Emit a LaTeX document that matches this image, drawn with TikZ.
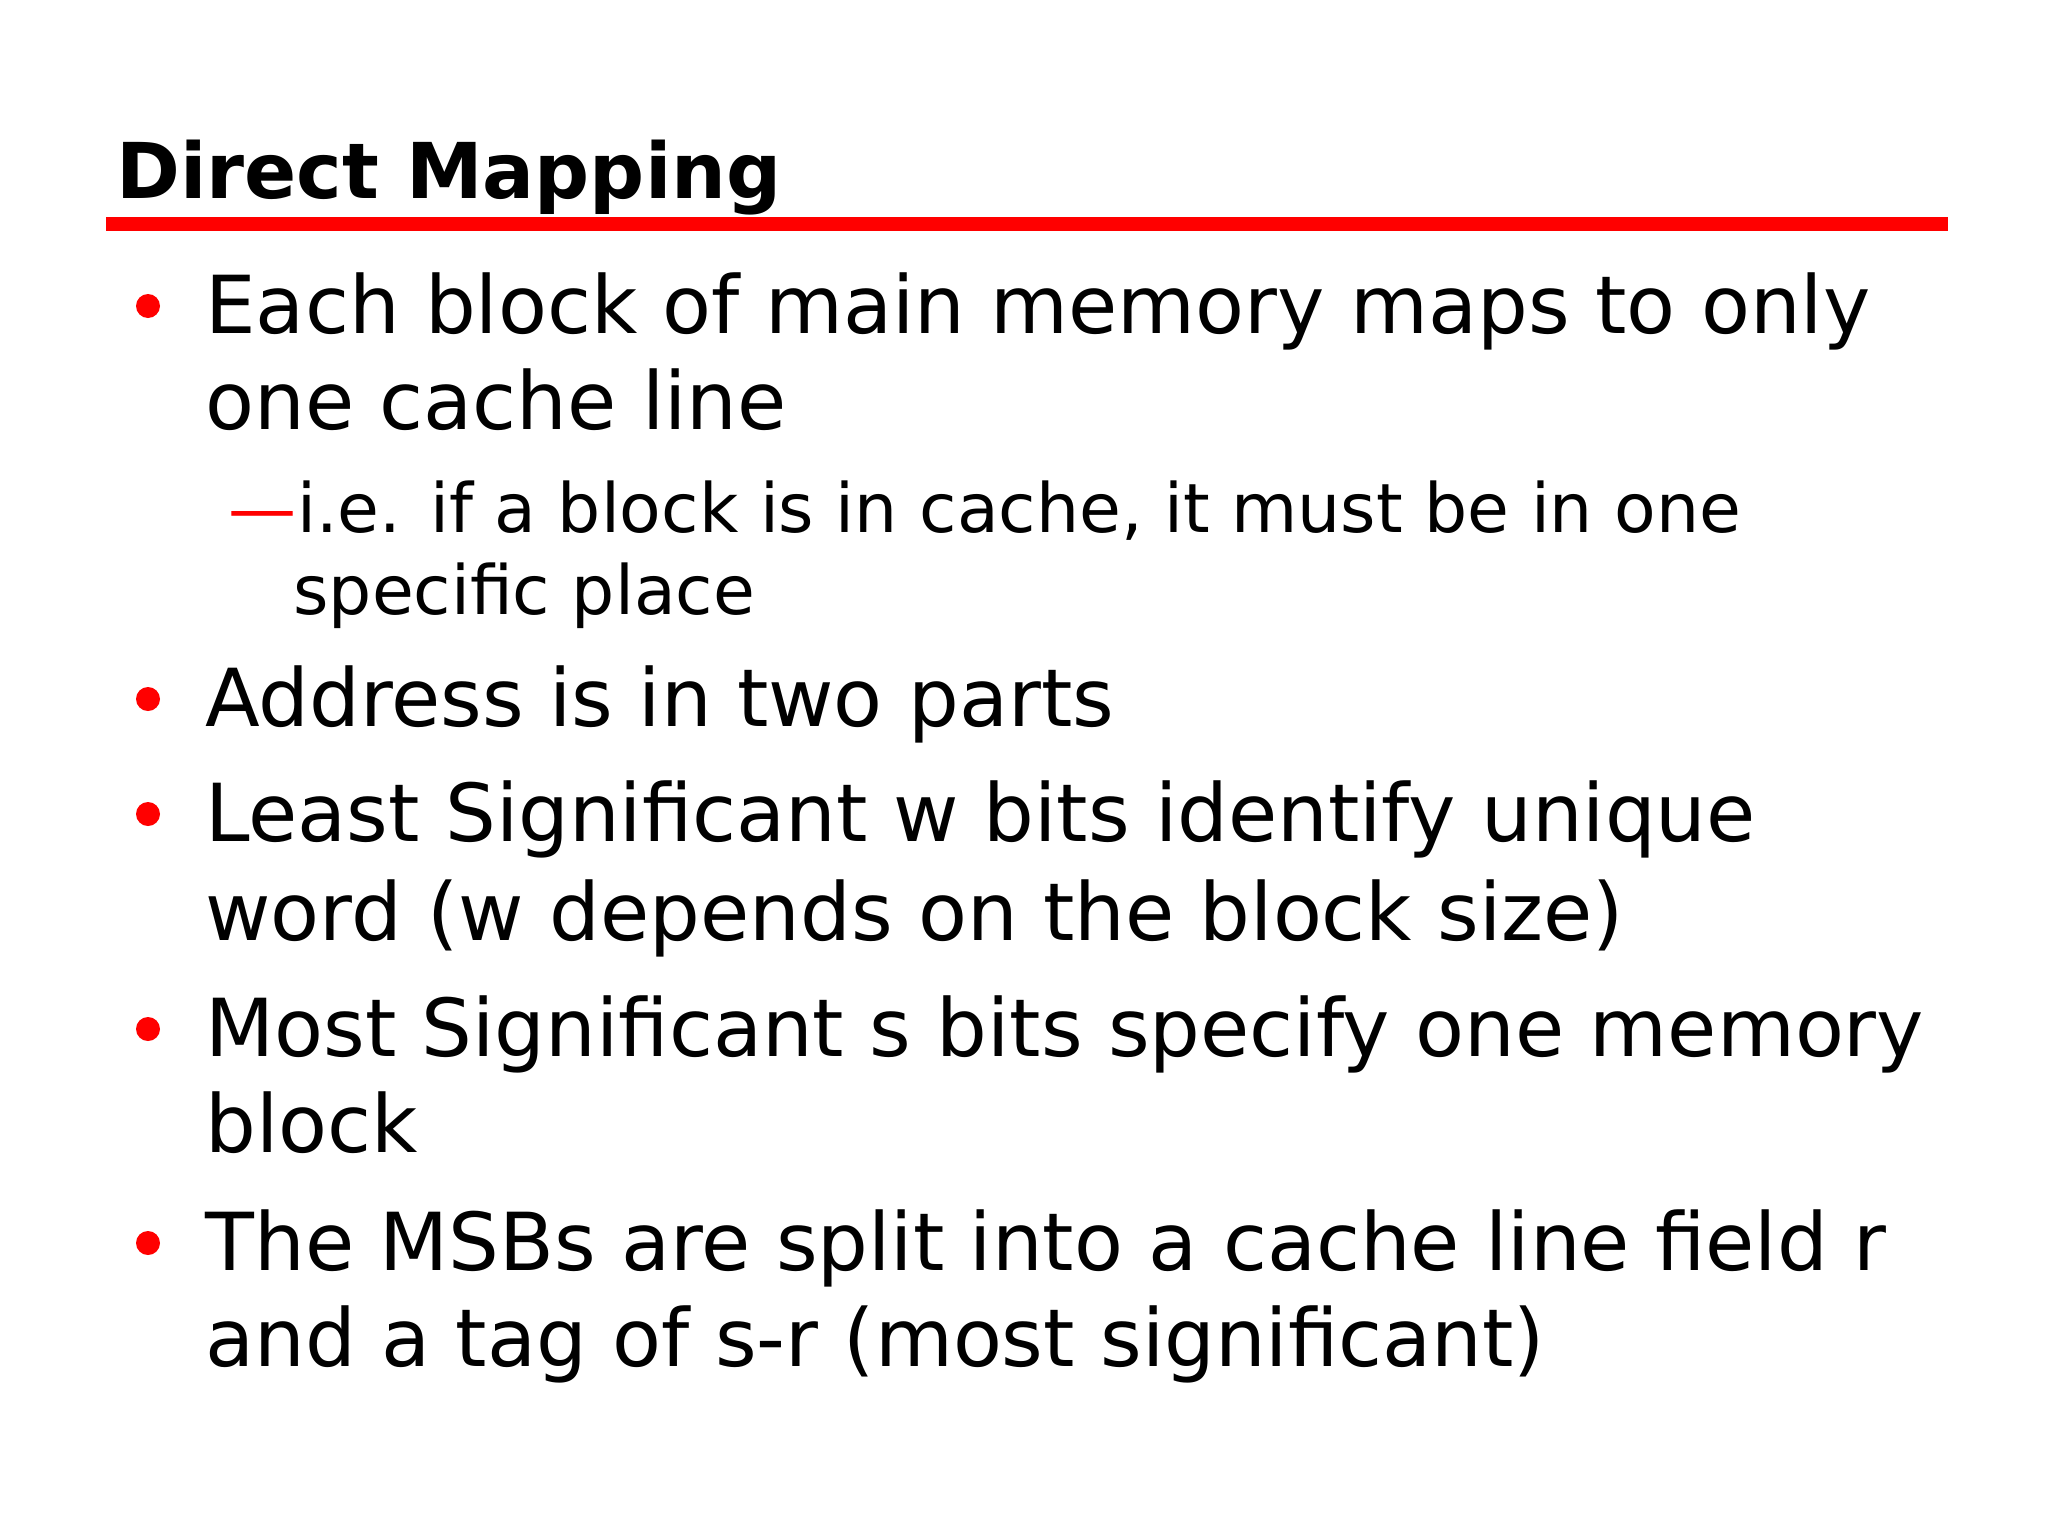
\documentclass[tikz,border=0pt]{standalone}
\usepackage{fontspec}
\setmainfont{DejaVu Sans}
\begin{document}
\begin{tikzpicture}[x=0.5pt,y=-0.5pt,
  txt/.style={anchor=base west,inner sep=0pt,font=\fontsize{40}{48}\selectfont},
  subtxt/.style={anchor=base west,inner sep=0pt,font=\fontsize{34}{40}\selectfont},
  dot/.style={fill=red,circle,inner sep=0pt,minimum size=12pt}]
\useasboundingbox (0,0) rectangle (2048,1536);
\node[anchor=base west,inner sep=0pt,font=\fontsize{38.5}{44}\selectfont\bfseries] (title) at (116,198) {Direct Mapping};
\fill[red] (106,217) rectangle (1948,231);
\foreach \n/\y in {b1/333,b2/726,b3/841,b4/1056,b5/1270}{\node[dot] (\n) at (148,\y-27) {};}
\node[txt] (t1) at (205,333) {Each block of main memory maps to only};
\node[txt] (t2) at (205,429) {one cache line};
\node[subtxt,text=red,anchor=base east] (d1) at (297,532) {—};
\node[subtxt] (s1) at (297,532) {i.e. if a block is in cache, it must be in one};
\node[subtxt] (s2) at (293,614) {specific place};
\node[txt] (t3) at (205,726) {Address is in two parts};
\node[txt] (t4) at (205,841) {Least Significant w bits identify unique};
\node[txt] (t5) at (205,940) {word (w depends on the block size)};
\node[txt] (t6) at (205,1056) {Most Significant s bits specify one memory};
\node[txt] (t7) at (205,1152) {block};
\node[txt] (t8) at (205,1270) {The MSBs are split into a cache line field r};
\node[txt] (t9) at (205,1366) {and a tag of s-r (most significant)};
\end{tikzpicture}
\end{document}
